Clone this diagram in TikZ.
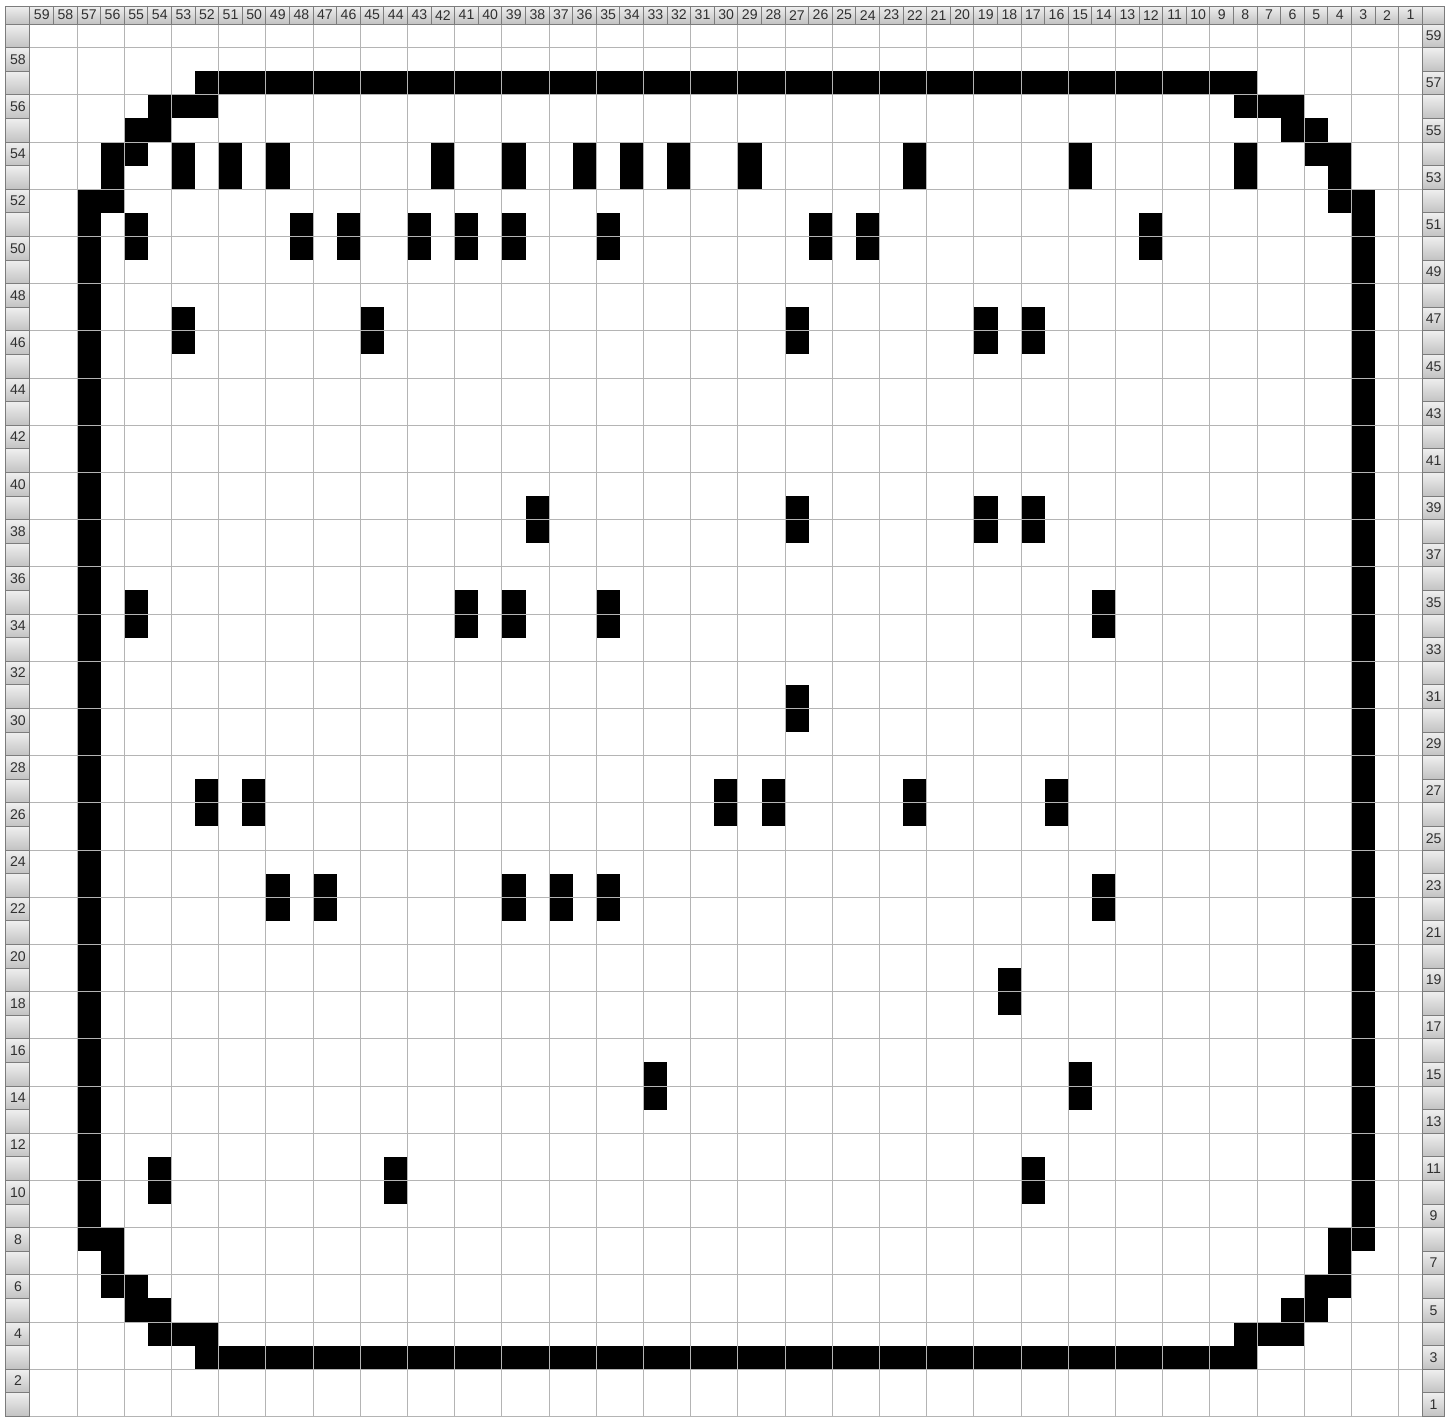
\documentclass[tikz,border=0pt]{standalone}
\usepackage{fontspec}
\setmainfont{Liberation Sans}
\definecolor{gridLine}{HTML}{B4B4B4}
\definecolor{hdrEdge}{HTML}{7C7C7C}
\definecolor{hdrTop}{HTML}{EFEFEF}
\definecolor{hdrBot}{HTML}{C2C2C2}
\definecolor{lblText}{HTML}{303030}

\begin{document}
\begin{tikzpicture}[x=0.5cm, y=0.5cm,
    hdr/.style={draw=hdrEdge, line width=0.6pt, top color=hdrTop, bottom color=hdrBot},
    lbl/.style={font=\fontsize{8.5}{10}\selectfont, text=lblText, inner sep=0pt},
    on/.style={fill=black}]
    \useasboundingbox (-1.27,-0.04) rectangle (60.34,60.02);
    \fill[white] (-1.27,-0.04) rectangle (60.34,60.02);

    % frame
    \fill[on] (7,56) rectangle (52,57);
    \fill[on] (7,2) rectangle (52,3);
    \fill[on] (2,7) rectangle (3,52);
    \fill[on] (56,7) rectangle (57,52);
    \foreach \c/\r in {52/56,53/56,54/56,54/55,55/55,55/54,56/54,56/53,56/52,
                       8/56,7/56,6/56,6/55,5/55,5/54,4/54,4/53,4/52,
                       56/8,56/7,56/6,55/6,55/5,54/5,54/4,53/4,52/4,
                       4/8,4/7,4/6,5/6,5/5,6/5,6/4,7/4,8/4}
        \fill[on] ({59-\c},{\r-1}) rectangle ++(1,1);

    % two-cell bars, by lower row
    \foreach \r/\cols in {53/{53,51,49,42,39,36,34,32,29,22,15,8},
                          50/{55,48,46,43,41,39,35,26,24,12},
                          46/{53,45,27,19,17},
                          38/{38,27,19,17},
                          34/{55,41,39,35,14},
                          30/{27},
                          26/{52,50,30,28,22,16},
                          22/{49,47,39,37,35,14},
                          18/{18},
                          14/{33,15},
                          10/{54,44,17}}
        \foreach \c in \cols
            \fill[on] ({59-\c},{\r-1}) rectangle ++(1,2);

    \draw[gridLine, line width=0.6pt] (0,0) grid (59,59);

    % column header
    \draw[hdr] (-1.02,59) rectangle (0,59.76);
    \draw[hdr] (59,59) rectangle (59.95,59.76);
    \foreach \c in {1,...,59} {
        \draw[hdr] ({59-\c},59) rectangle ++(1,0.76);
        \node[lbl] (col-\c) at ({59.5-\c},59.38) {\c};
    }

    % row headers
    \foreach \r in {1,...,59} {
        \draw[hdr] (-1.02,{\r-1}) rectangle (0,\r);
        \draw[hdr] (59,{\r-1}) rectangle (59.95,\r);
    }
    \foreach \r in {2,4,...,58}
        \node[lbl] (rowL-\r) at (-0.51,{\r-0.5}) {\r};
    \foreach \r in {1,3,...,59}
        \node[lbl] (rowR-\r) at (59.475,{\r-0.5}) {\r};
\end{tikzpicture}
\end{document}
